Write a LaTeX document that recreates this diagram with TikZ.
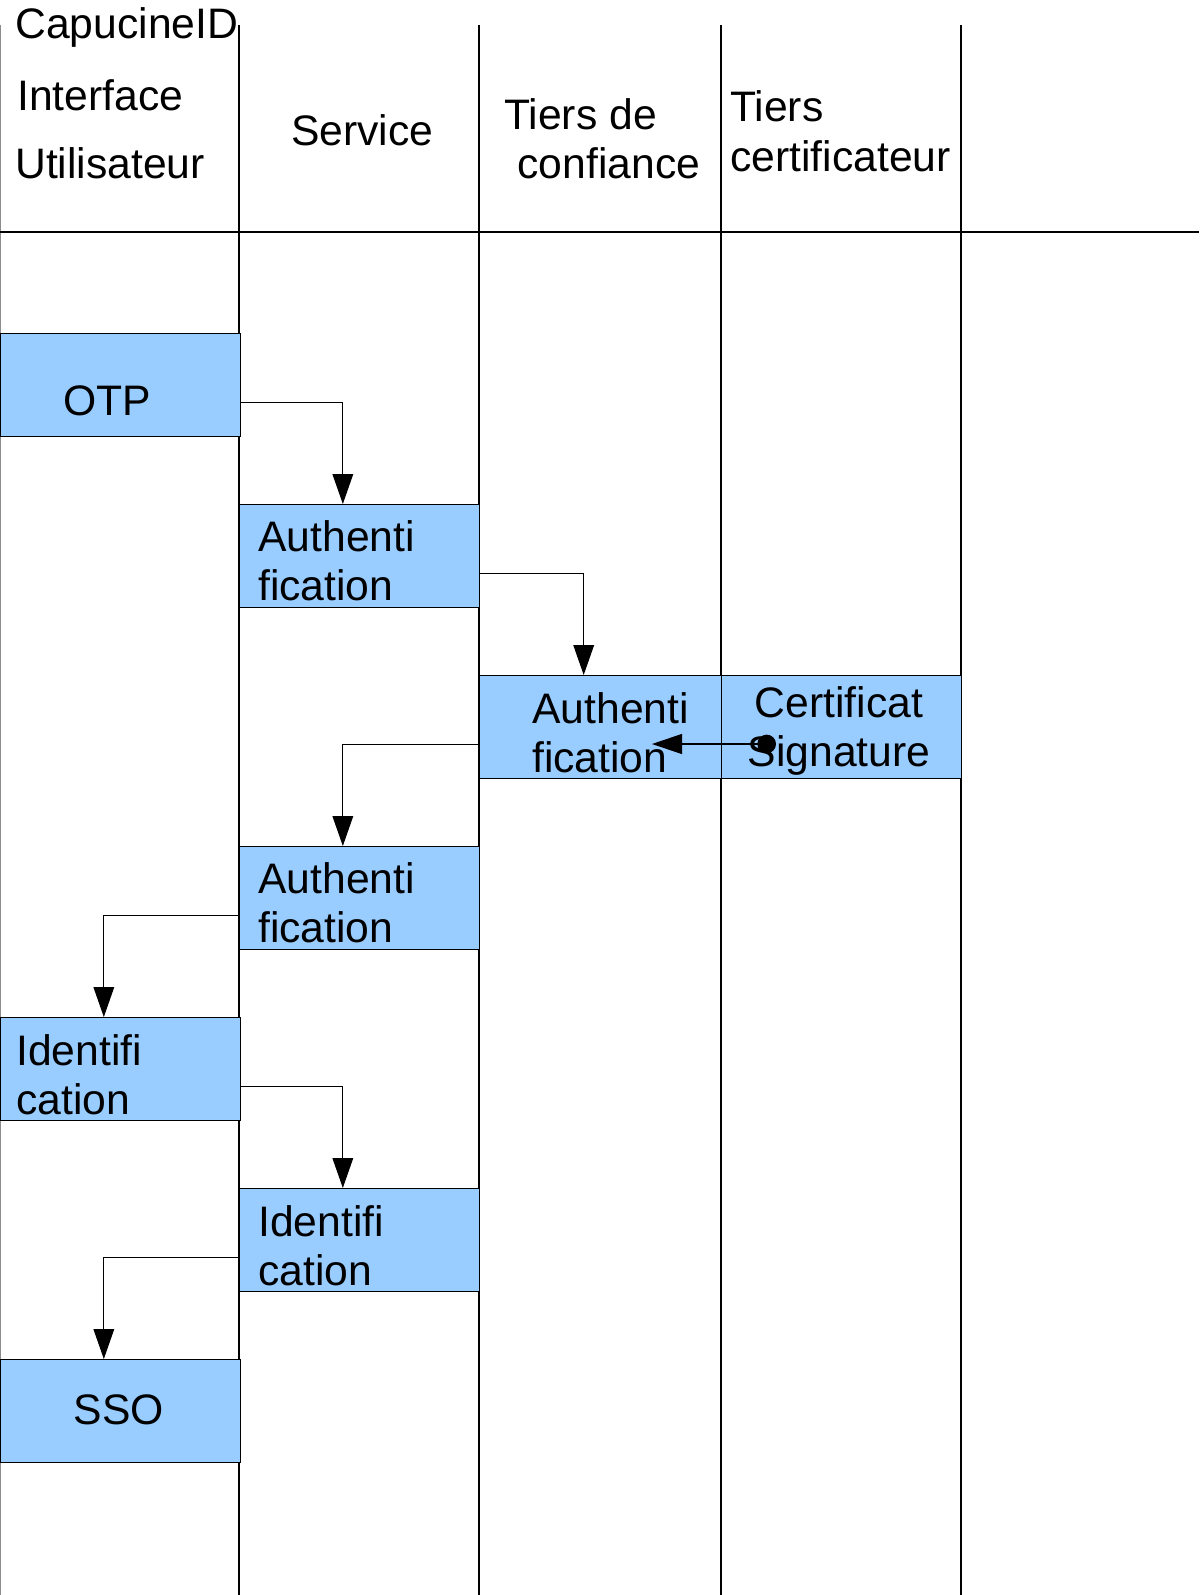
\documentclass[tikz,border=0pt]{standalone}
\usepackage{fontspec}
\setmainfont{Liberation Sans}
\usetikzlibrary{calc, arrows.meta}

\definecolor{boxblue}{HTML}{99CCFF}
\newcommand{\diafont}{\fontsize{32}{36.75}\selectfont}

\tikzset{
    lane/.style={line width=1pt},
    box/.style={draw, fill=boxblue, line width=1.1pt, anchor=north west, inner sep=0pt,
        minimum width=180pt, minimum height=77pt},
    txt/.style={font=\diafont, inner sep=0pt, align=left},
    flow/.style={line width=0.9pt, -{Triangle[length=22.5pt, width=15.5pt]}},
}

\begin{document}
\begin{tikzpicture}[x=0.75pt, y=-0.75pt]
    \useasboundingbox (0,0) rectangle (1199,1595);
    \def \laneTop {25}
    \def \rowStep {171}

    % lanes and header
    \draw[lane, black!45] (0.6,\laneTop) -- (0.6,1595);
    \foreach \x in {239, 479, 721, 961}
        \draw[lane] (\x,\laneTop) -- (\x,1595);
    \draw[line width=1.4pt] (0,232) -- (1199,232);

    % multi-line nodes: base = baseline of the last line
    \node[txt, anchor=base west] (hdId) at (15,39) {CapucineID};
    \node[txt, anchor=base west] (hdIface) at (17,110) {Interface};
    \node[txt, anchor=base west] (hdUser) at (15,178) {Utilisateur};
    \node[txt, anchor=base west] (hdService) at (291,145) {Service};
    \node[txt, anchor=base west] (hdTrust) at (504,178) {Tiers de\\\hspace*{10pt}confiance};
    \node[txt, anchor=base west] (hdCert) at (730,171) {Tiers\\certificateur};

    % steps
    \node[box] (otp) at (0,333) {};
    \node[box] (authA) at (239,333+\rowStep) {};
    \node[box, minimum width=181.5pt] (authB) at (479,333+2*\rowStep) {};
    \node[box] (certif) at (721,333+2*\rowStep) {};
    \node[box] (authC) at (239,333+3*\rowStep) {};
    \node[box] (identA) at (0,333+4*\rowStep) {};
    \node[box] (identB) at (239,333+5*\rowStep) {};
    \node[box] (sso) at (0,333+6*\rowStep) {};

    \node[txt, anchor=base west] (otpT) at ($(otp.north west)+(63,82)$) {OTP};
    \node[txt, anchor=base west] (authAT) at ($(authA.north west)+(19,96)$) {Authenti\\fication};
    \node[txt, anchor=base west] (authBT) at ($(authB.north west)+(53,97)$) {Authenti\\fication};
    \node[txt, anchor=base, align=center] (certifT) at ($(certif.north west)+(118,91)$) {Certificat\\Signature};
    \node[txt, anchor=base west] (authCT) at ($(authC.north west)+(19,96)$) {Authenti\\fication};
    \node[txt, anchor=base west] (identAT) at ($(identA.north west)+(16,97)$) {Identifi\\cation};
    \node[txt, anchor=base west] (identBT) at ($(identB.north west)+(19,97)$) {Identifi\\cation};
    \node[txt, anchor=base] (ssoT) at ($(sso.north west)+(119,65)$) {SSO};

    % connectors
    \draw[flow] ($(otp.north east)!0.67!(otp.south east)$) -| ($(authA.north west)!0.43!(authA.north east)$);
    \draw[flow] ($(authA.north east)!0.67!(authA.south east)$) -| ($(authB.north west)!0.43!(authB.north east)$);
    \draw[flow] ($(authB.north west)!0.67!(authB.south west)$) -| ($(authC.north west)!0.43!(authC.north east)$);
    \draw[flow] ($(authC.north west)!0.67!(authC.south west)$) -| ($(identA.north west)!0.43!(identA.north east)$);
    \draw[flow] ($(identA.north east)!0.67!(identA.south east)$) -| ($(identB.north west)!0.43!(identB.north east)$);
    \draw[flow] ($(identB.north west)!0.67!(identB.south west)$) -| ($(sso.north west)!0.43!(sso.north east)$);

    \coordinate (sigStart) at ($(certif.north west)+(55,69)$);
    \coordinate (sigEnd) at ($(authB.north west)+(173,69)$);
    \draw[line width=0.9pt, {Circle[length=14pt]}-{Triangle[length=22.5pt, width=15pt]}] (sigStart) -- (sigEnd);
\end{tikzpicture}
\end{document}
